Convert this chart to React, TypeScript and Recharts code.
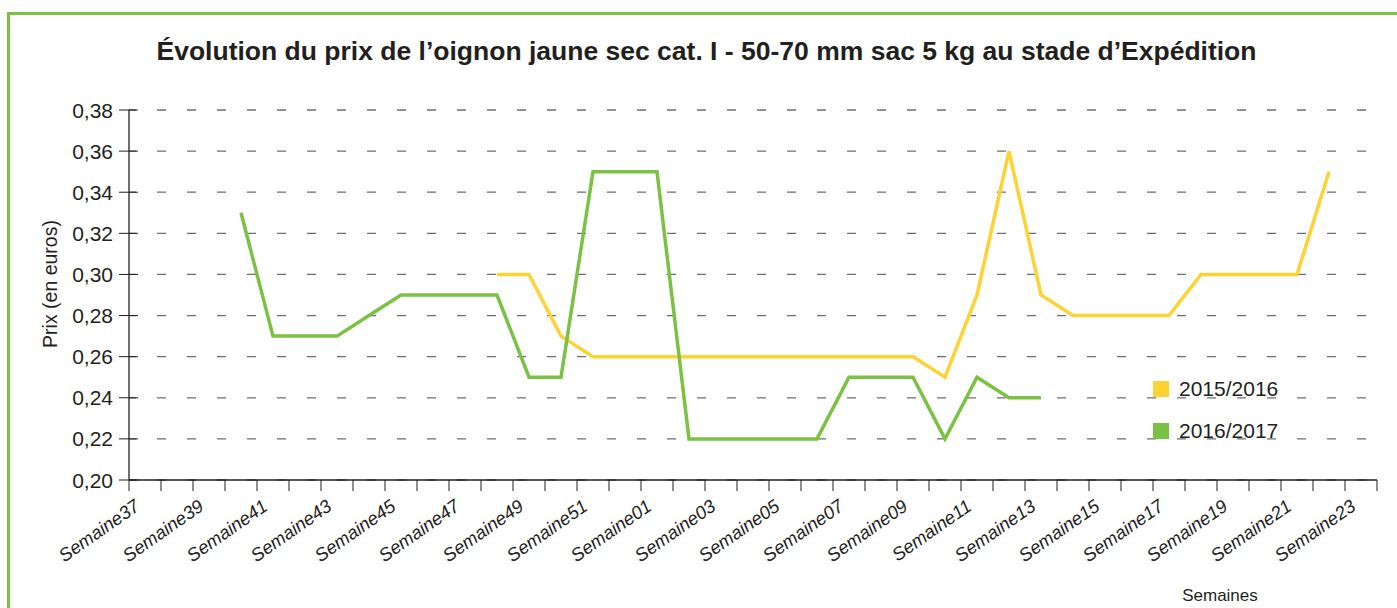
import React from 'react';
import { LineChart, Line, XAxis, YAxis, CartesianGrid } from 'recharts';

const WEEKS = [
  'Semaine37', 'Semaine38', 'Semaine39', 'Semaine40', 'Semaine41', 'Semaine42', 'Semaine43', 'Semaine44',
  'Semaine45', 'Semaine46', 'Semaine47', 'Semaine48', 'Semaine49', 'Semaine50', 'Semaine51', 'Semaine52',
  'Semaine01', 'Semaine02', 'Semaine03', 'Semaine04', 'Semaine05', 'Semaine06', 'Semaine07', 'Semaine08',
  'Semaine09', 'Semaine10', 'Semaine11', 'Semaine12', 'Semaine13', 'Semaine14', 'Semaine15', 'Semaine16',
  'Semaine17', 'Semaine18', 'Semaine19', 'Semaine20', 'Semaine21', 'Semaine22', 'Semaine23',
];

// 2015/2016 (yellow)
const PRICE_2015_2016: (number | null)[] = [
  null, null, null, null, null, null, null, null, null, null, null,
  0.30, 0.30, 0.27,
  0.26, 0.26, 0.26, 0.26, 0.26, 0.26, 0.26, 0.26, 0.26, 0.26, 0.26,
  0.25, 0.29, 0.36, 0.29,
  0.28, 0.28, 0.28, 0.28,
  0.30, 0.30, 0.30, 0.30,
  0.35, null,
];

// 2016/2017 (green)
const PRICE_2016_2017: (number | null)[] = [
  null, null, null,
  0.33, 0.27, 0.27, 0.27, 0.28,
  0.29, 0.29, 0.29, 0.29,
  0.25, 0.25,
  0.35, 0.35, 0.35,
  0.22, 0.22, 0.22, 0.22, 0.22,
  0.25, 0.25, 0.25,
  0.22, 0.25, 0.24, 0.24,
  null, null, null, null, null, null, null, null, null, null,
];

const Y_TICKS = [0.2, 0.22, 0.24, 0.26, 0.28, 0.3, 0.32, 0.34, 0.36, 0.38];
const SERIES = [
  { key: 's1', name: '2015/2016', color: '#fed233' },
  { key: 's2', name: '2016/2017', color: '#7bc143' },
];

const TEXT = '#231f20';
const FONT = "'Liberation Sans', Arial, sans-serif";
const W = 1397;
const H = 608;
const PLOT_LEFT = 129;
const PLOT_RIGHT = 1377;
const PLOT_TOP = 110;
const PLOT_BOTTOM = 480;
const HALF_BAND = (PLOT_RIGHT - PLOT_LEFT) / WEEKS.length / 2;

const data = WEEKS.map((w, i) => ({
  x: i + 0.5,
  week: w,
  s1: PRICE_2015_2016[i],
  s2: PRICE_2016_2017[i],
}));

const boundaries = WEEKS.map((_, i) => i).concat([WEEKS.length]);

const XTick = (props: any) => {
  const { x, y, payload } = props;
  const i = payload.value;
  const label = i < WEEKS.length && i % 2 === 0 ? WEEKS[i] : null;
  const ax = x + HALF_BAND - 4;
  const ay = y + 29;
  return (
    <g>
      <line x1={x} y1={y} x2={x} y2={y + 11} stroke={TEXT} strokeWidth={1} />
      {label && (
        <text
          x={ax}
          y={ay}
          textAnchor="end"
          transform={`rotate(-35 ${ax} ${ay})`}
          fontSize={18.5}
          fontStyle="italic"
          fontFamily={FONT}
          fill={TEXT}
        >
          {label}
        </text>
      )}
    </g>
  );
};

const YTick = (props: any) => {
  const { x, y, payload } = props;
  return (
    <g>
      <line x1={x - 10} y1={y} x2={x + 9} y2={y} stroke={TEXT} strokeWidth={1} />
      <text x={x - 16} y={y} dy={7.5} textAnchor="end" fontSize={21} fontFamily={FONT} fill={TEXT}>
        {payload.value.toFixed(2).replace('.', ',')}
      </text>
    </g>
  );
};

export default function App() {
  return (
    <div style={{ position: 'absolute', left: 0, top: 0, width: W, height: H, background: '#fff', overflow: 'hidden' }}>
      <div
        style={{
          position: 'absolute',
          left: 7,
          top: 12,
          width: W + 20,
          height: H + 20,
          border: '3.5px solid #7bc143',
          boxSizing: 'border-box',
        }}
      />
      <div
        style={{
          position: 'absolute',
          left: 0,
          top: 36,
          width: 1413,
          textAlign: 'center',
          fontFamily: FONT,
          fontWeight: 'bold',
          fontSize: 26.5,
          lineHeight: '30px',
          color: TEXT,
        }}
      >
        Évolution du prix de l’oignon jaune sec cat. I - 50-70 mm sac 5 kg au stade d’Expédition
      </div>
      <div
        style={{
          position: 'absolute',
          left: 50 - 100,
          top: 284 - 12,
          width: 200,
          height: 24,
          lineHeight: '24px',
          textAlign: 'center',
          transform: 'rotate(-90deg)',
          fontFamily: FONT,
          fontSize: 19.5,
          color: TEXT,
        }}
      >
        Prix (en euros)
      </div>
      <div
        style={{
          position: 'absolute',
          left: 1120,
          top: 586,
          width: 200,
          lineHeight: '20px',
          textAlign: 'center',
          fontFamily: FONT,
          fontSize: 17,
          color: TEXT,
        }}
      >
        Semaines
      </div>
      <div style={{ position: 'absolute', left: 0, top: 0 }}>
        <LineChart
          width={W}
          height={H}
          data={data}
          margin={{ top: PLOT_TOP, right: W - PLOT_RIGHT, left: 0, bottom: 0 }}
        >
          <CartesianGrid
            vertical={false}
            stroke="#6d6e71"
            strokeWidth={1.3}
            strokeDasharray="9 21"
            strokeDashoffset={2}
          />
          <XAxis
            dataKey="x"
            type="number"
            domain={[0, WEEKS.length]}
            ticks={boundaries}
            interval={0}
            height={H - PLOT_BOTTOM}
            tickSize={0}
            tickMargin={0}
            tickLine={false}
            axisLine={{ stroke: TEXT, strokeWidth: 1.3 }}
            tick={<XTick />}
          />
          <YAxis
            type="number"
            domain={[0.2, 0.38]}
            ticks={Y_TICKS}
            interval={0}
            width={PLOT_LEFT}
            tickSize={0}
            tickMargin={0}
            tickLine={false}
            axisLine={{ stroke: TEXT, strokeWidth: 1.3 }}
            tick={<YTick />}
          />
          {SERIES.map((s) => (
            <Line
              key={s.key}
              type="linear"
              dataKey={s.key}
              name={s.name}
              stroke={s.color}
              strokeWidth={3.5}
              strokeLinejoin="miter"
              dot={false}
              activeDot={false}
              connectNulls={false}
              isAnimationActive={false}
            />
          ))}
        </LineChart>
      </div>
      <div
        style={{
          position: 'absolute',
          left: 1153,
          top: 368,
          fontFamily: FONT,
          fontSize: 21,
          color: TEXT,
        }}
      >
        {SERIES.map((s) => (
          <div key={s.key} style={{ display: 'flex', alignItems: 'center', height: 42 }}>
            <span style={{ display: 'inline-block', width: 16, height: 16, background: s.color, marginRight: 10 }} />
            <span>{s.name}</span>
          </div>
        ))}
      </div>
    </div>
  );
}
